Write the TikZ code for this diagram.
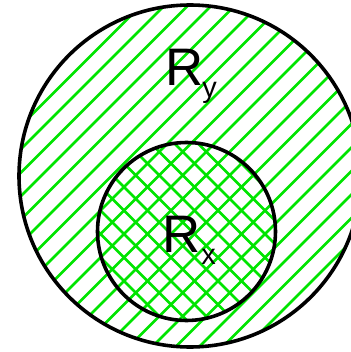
\documentclass[tikz,border=0pt]{standalone}
\usepackage{fontspec}
\setmainfont{Liberation Sans}
\definecolor{hgreen}{RGB}{0,228,0}
\tikzset{
  hatch/.style={draw=hgreen,line width=2.7pt},
  rim/.style={draw=black,line width=3.6pt},
  lbl/.style={font=\fontsize{53}{53}\selectfont,inner sep=0pt,anchor=base west},
}
\newcommand{\lblsub}[1]{\raisebox{-12bp}{\fontsize{29}{29}\selectfont #1}}

\begin{document}
\begin{tikzpicture}[x=1bp,y=1bp]
  \useasboundingbox (0,0) rectangle (351,352);
  \clip (0,0) rectangle (351,352);
  % outer region: single hatch
  \begin{scope}
    \clip (190,176) circle (171);
    \foreach \c in {-476,-452.5,...,400}
      \draw[hatch] (-20,-20+\c) -- (380,380+\c);
  \end{scope}
  % inner region: second family on top
  \begin{scope}
    \clip (186.5,120.5) circle (89);
    \foreach \c in {-400,-376.5,...,400}
      \draw[hatch] (-20,380+\c) -- (380,-20+\c);
  \end{scope}
  \draw[rim] (190,176) circle (171);
  \draw[rim] (186.5,120.5) circle (89);
  \node[lbl] (ry) at (165,267) {R\kern-1bp\lblsub{y}};
  \node[lbl] (rx) at (162,100) {R\kern1bp\lblsub{x}};
\end{tikzpicture}
\end{document}
